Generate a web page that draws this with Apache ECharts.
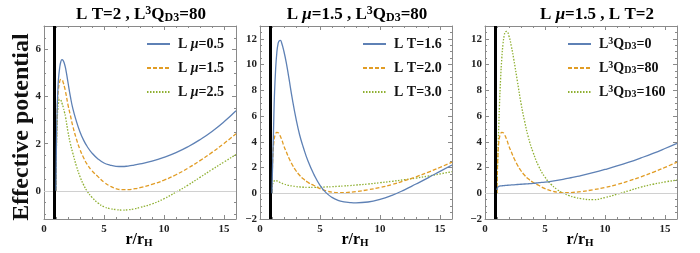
<!DOCTYPE html>
<html>
<head>
<meta charset="utf-8">
<script src="https://cdn.jsdelivr.net/npm/echarts@6/dist/echarts.min.js"></script>
<style>html,body{margin:0;padding:0;background:#fff}#c{width:700px;height:253px}</style>
</head>
<body>
<div id="c"></div>
<script>
// radial coordinate r/r_H (shared sample points)
const r = [1.0, 1.02, 1.05, 1.1, 1.15, 1.2, 1.3, 1.4, 1.5, 1.6, 1.7, 1.8, 2.0, 2.2, 2.4, 2.7, 3.0, 3.3, 3.6, 4.0, 4.5, 5.0, 5.5, 6.0, 6.5, 7.0, 7.5, 8.0, 9.0, 10, 11, 12, 13, 14, 15, 16];
// Panel 1 : L T=2, L^3 Q=80
const mu05 = [0, 1.2, 2.4, 3.5, 4.2, 4.7, 5.2, 5.48, 5.57, 5.53, 5.4, 5.2, 4.6, 4.0, 3.5, 2.95, 2.5, 2.15, 1.88, 1.6, 1.35, 1.18, 1.09, 1.04, 1.03, 1.05, 1.09, 1.14, 1.26, 1.42, 1.62, 1.87, 2.17, 2.52, 2.93, 3.4];
// common curve: L mu=1.5, L T=2, L^3 Q=80
const base = [0, 1.3, 2.4, 3.4, 3.95, 4.3, 4.62, 4.73, 4.72, 4.6, 4.42, 4.2, 3.65, 3.2, 2.75, 2.2, 1.75, 1.4, 1.12, 0.85, 0.6, 0.36, 0.2, 0.09, 0.05, 0.05, 0.08, 0.13, 0.27, 0.45, 0.68, 0.96, 1.28, 1.63, 2.01, 2.42];
const mu25 = [0, 1.2, 2.2, 3.0, 3.45, 3.7, 3.88, 3.85, 3.72, 3.55, 3.35, 3.12, 2.5, 2.0, 1.6, 1.05, 0.6, 0.25, -0.02, -0.28, -0.52, -0.68, -0.76, -0.8, -0.82, -0.81, -0.77, -0.71, -0.56, -0.34, -0.06, 0.24, 0.57, 0.9, 1.22, 1.54];
// Panel 2 : L mu=1.5, L^3 Q=80
const T16 = [0, 1.0, 2.2, 3.9, 5.8, 7.5, 9.6, 10.9, 11.6, 11.85, 11.88, 11.7, 11.0, 10.1, 9.0, 7.3, 5.8, 4.55, 3.6, 2.5, 1.45, 0.62, 0.05, -0.32, -0.55, -0.67, -0.72, -0.74, -0.68, -0.48, -0.16, 0.25, 0.72, 1.2, 1.7, 2.2];
const T30 = [0, 0.4, 0.65, 0.85, 0.93, 0.97, 0.99, 0.97, 0.93, 0.88, 0.83, 0.79, 0.72, 0.66, 0.61, 0.56, 0.52, 0.49, 0.47, 0.46, 0.46, 0.47, 0.49, 0.51, 0.54, 0.57, 0.6, 0.64, 0.72, 0.82, 0.93, 1.05, 1.18, 1.33, 1.5, 1.68];
// Panel 3 : L mu=1.5, L T=2
const Q0 = [0.25, 0.38, 0.45, 0.5, 0.53, 0.55, 0.57, 0.58, 0.59, 0.6, 0.61, 0.62, 0.63, 0.65, 0.66, 0.68, 0.7, 0.72, 0.74, 0.77, 0.82, 0.87, 0.93, 1.0, 1.08, 1.17, 1.27, 1.37, 1.6, 1.85, 2.12, 2.42, 2.75, 3.1, 3.48, 3.88];
const Q160 = [0, 1.0, 2.2, 3.8, 5.3, 6.7, 8.9, 10.5, 11.6, 12.25, 12.55, 12.58, 12.2, 11.4, 10.4, 8.7, 7.0, 5.6, 4.4, 3.2, 2.05, 1.25, 0.7, 0.3, 0.02, -0.18, -0.32, -0.42, -0.5, -0.33, -0.08, 0.2, 0.48, 0.7, 0.88, 1.03];

const horizon = 0.85;
const xRange = [0, 16];
const yRanges = [[-1.2, 7], [-2, 13], [-2, 13]];

const titles = [
  '{b|L T=2 , L}{sup|3}{b|Q}{sub|D3}{b|=80}',
  '{b|L }{i|μ}{b|=1.5 , L}{sup|3}{b|Q}{sub|D3}{b|=80}',
  '{b|L }{i|μ}{b|=1.5 , L T=2}'
];
const legendLabels = [
  ['{b|L }{i|μ}{b|=0.5}', '{b|L }{i|μ}{b|=1.5}', '{b|L }{i|μ}{b|=2.5}'],
  ['{b|L T=1.6}', '{b|L T=2.0}', '{b|L T=3.0}'],
  ['{b|L}{sup|3}{b|Q}{sub|D3}{b|=0}', '{b|L}{sup|3}{b|Q}{sub|D3}{b|=80}', '{b|L}{sup|3}{b|Q}{sub|D3}{b|=160}']
];
const panelSeries = [[mu05, base, mu25], [T16, base, T30], [Q0, base, Q160]];

const FONT = 'Liberation Serif, Times New Roman, serif';
const colors = ['#5E81B5', '#E19C24', '#8FB032'];
const dashes = ['solid', [4, 2], [1.5, 1.5]];
const frame = '#8a8a8a';
const gridLeft = [44, 260, 485];
const GW = 192, GT = 26, GH = 193;
const titleX = [141, 357, 597];

function rich(size) {
  return {
    b: {fontFamily: FONT, fontWeight: 'bold', fontSize: size, color: '#111', lineHeight: size + 2},
    i: {fontFamily: FONT, fontWeight: 'bold', fontStyle: 'italic', fontSize: size, color: '#111', lineHeight: size + 2},
    sup: {fontFamily: FONT, fontWeight: 'bold', fontSize: Math.round(size * 0.68), color: '#111', padding: [0, 0, Math.round(size * 0.45), 0], lineHeight: size + 2},
    sub: {fontFamily: FONT, fontWeight: 'bold', fontSize: Math.round(size * 0.68), color: '#111', padding: [Math.round(size * 0.35), 0, 0, 0], lineHeight: size + 2}
  };
}

const grids = [], xAxes = [], yAxes = [], series = [], legends = [], graphics = [];
const nameMap = {};
for (let p = 0; p < 3; p++) {
  grids.push({left: gridLeft[p], top: GT, width: GW, height: GH, containLabel: false});
  const tickLbl = {fontFamily: FONT, fontWeight: 'bold', fontSize: 11, color: '#222'};
  xAxes.push({
    gridIndex: p, type: 'value', min: xRange[0], max: xRange[1], interval: 5, position: 'bottom',
    axisLine: {show: true, onZero: false, lineStyle: {color: frame, width: 1}},
    axisTick: {show: true, inside: true, length: 4, lineStyle: {color: frame}},
    minorTick: {show: true, splitNumber: 5, length: 2, lineStyle: {color: frame}},
    axisLabel: Object.assign({margin: 5, showMaxLabel: false}, tickLbl),
    splitLine: {show: false}
  });
  xAxes.push({
    gridIndex: p, type: 'value', min: xRange[0], max: xRange[1], interval: 5, position: 'top',
    axisLine: {show: true, onZero: false, lineStyle: {color: frame, width: 1}},
    axisTick: {show: true, inside: true, length: 4, lineStyle: {color: frame}},
    minorTick: {show: true, splitNumber: 5, length: 2, lineStyle: {color: frame}},
    axisLabel: {show: false}, splitLine: {show: false}
  });
  const yr = yRanges[p];
  const yBase = {gridIndex: p, type: 'value', min: yr[0], max: yr[1]};
  if (p > 0) yBase.interval = 2; else yBase.splitNumber = 4;
  yAxes.push(Object.assign({}, yBase, {
    position: 'left',
    axisLine: {show: true, onZero: false, lineStyle: {color: frame, width: 1}},
    axisTick: {show: true, inside: true, length: 4, lineStyle: {color: frame}},
    minorTick: {show: true, splitNumber: 4, length: 2, lineStyle: {color: frame}},
    axisLabel: Object.assign({margin: 3, showMaxLabel: false, showMinLabel: p > 0,
      formatter: v => (v < 0 ? '\u2212' + Math.abs(v) : String(v))}, tickLbl),
    splitLine: {show: false}
  }));
  yAxes.push(Object.assign({}, yBase, {
    position: 'right',
    axisLine: {show: true, onZero: false, lineStyle: {color: frame, width: 1}},
    axisTick: {show: true, inside: true, length: 4, lineStyle: {color: frame}},
    minorTick: {show: true, splitNumber: 4, length: 2, lineStyle: {color: frame}},
    axisLabel: {show: false}, splitLine: {show: false}
  }));
  const names = [];
  for (let s = 0; s < 3; s++) {
    const nm = 'p' + p + 's' + s;
    names.push(nm);
    nameMap[nm] = legendLabels[p][s];
    const vals = panelSeries[p][s];
    const ser = {
      name: nm, type: 'line', xAxisIndex: p * 2, yAxisIndex: p * 2,
      data: r.map((x, i) => [x, vals[i]]),
      symbol: 'none', smooth: 0.5,
      lineStyle: {color: colors[s], width: 1.3, type: dashes[s]},
      itemStyle: {color: colors[s]},
      z: 5 - s, animation: false
    };
    if (s === 0) {
      ser.markLine = {
        silent: true, symbol: 'none', animation: false,
        label: {show: false},
        data: [
          {yAxis: 0, lineStyle: {color: '#d0d0d0', width: 1, type: 'solid'}},
          {xAxis: horizon, lineStyle: {color: '#000', width: 3, type: 'solid'}}
        ]
      };
    }
    series.push(ser);
  }
  legends.push({
    data: names, orient: 'vertical', left: [146, 362, 567][p], top: 36, padding: 0,
    itemWidth: 23, itemHeight: 10, itemGap: 8,
    itemStyle: {opacity: 0},
    selectedMode: false,
    formatter: n => nameMap[n],
    textStyle: {fontFamily: FONT, fontWeight: 'bold', fontSize: 14, color: '#111', padding: [0, 0, 0, 3], lineHeight: 16, rich: rich(14)}
  });
  graphics.push({
    type: 'text', x: titleX[p], y: 15,
    style: {text: titles[p], rich: rich(17), align: 'center', verticalAlign: 'middle', fontFamily: FONT, fontWeight: 'bold', fontSize: 17}
  });
  graphics.push({
    type: 'text', x: gridLeft[p] + GW / 2 - 1, y: 240,
    style: {text: '{b|r/r}{sub|H}', rich: rich(16), align: 'center', verticalAlign: 'middle', fontFamily: FONT, fontWeight: 'bold', fontSize: 16}
  });
}
graphics.push({
  type: 'text', x: 22, y: 127, rotation: Math.PI / 2,
  style: {text: 'Effective potential', align: 'center', verticalAlign: 'middle', fontFamily: FONT, fontWeight: 'bold', fontSize: 24, fill: '#111'}
});

const chart = echarts.init(document.getElementById('c'), null, {renderer: 'canvas'});
chart.setOption({
  animation: false,
  backgroundColor: '#fff',
  grid: grids, xAxis: xAxes, yAxis: yAxes, series: series, legend: legends, graphic: graphics
});
</script>
</body>
</html>
